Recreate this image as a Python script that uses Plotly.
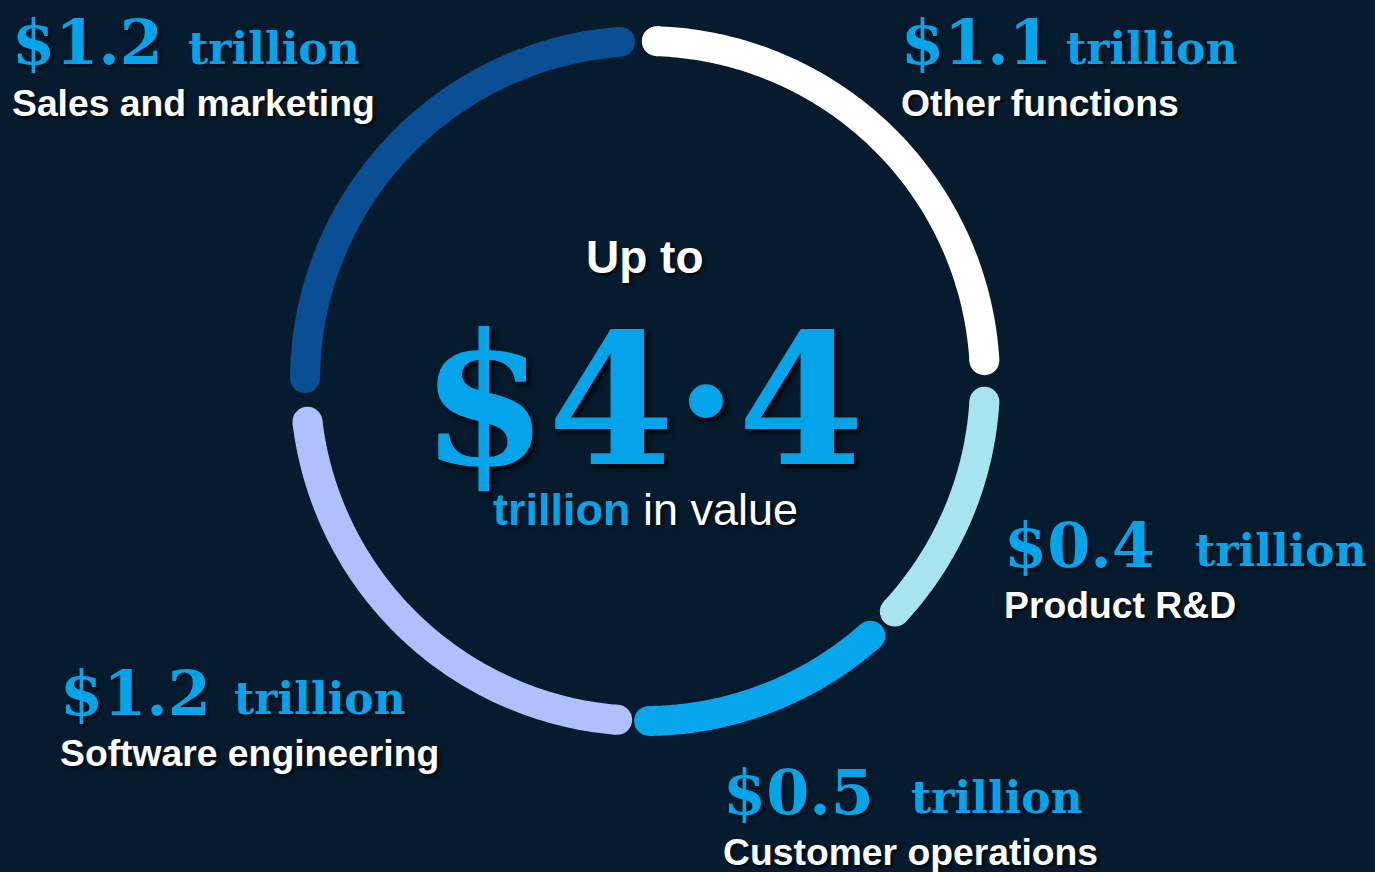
import numpy as np
import plotly.graph_objects as go

# data
functions = ["Other functions", "Product R&D", "Customer operations",
             "Software engineering", "Sales and marketing"]
values = [1.1, 0.4, 0.5, 1.2, 1.2]  # $ trillion
total = 4.4
# arc extents, degrees clockwise from 12 o'clock
arc_start = [2.0, 93.5, 138.5, 184.7, 270.5]
arc_end = [86.5, 132.7, 179.3, 263.1, 355.8]
arc_colors = ["#ffffff", "#a8e4ef", "#05a6ec", "#aec0ff", "#0a4e93"]

BG = "#061b2d"
BLUE = "#03a4ea"
SHADOW = "2px 2px 3px rgba(0,0,0,0.75)"
SERIF = "DejaVu Serif"
SANS = "Liberation Sans"

fig = go.Figure()

for name, a0, a1, col in zip(functions, arc_start, arc_end, arc_colors):
    theta = np.linspace(a0, a1, 120)
    fig.add_trace(go.Scatterpolar(
        r=np.ones_like(theta), theta=theta, mode="lines",
        line=dict(color=col, width=30), cliponaxis=False,
        hoverinfo="skip", showlegend=False, name=name))
    # round caps
    fig.add_trace(go.Scatterpolar(
        r=[1, 1], theta=[a0, a1], mode="markers",
        marker=dict(color=col, size=30, line=dict(width=0)),
        cliponaxis=False, hoverinfo="skip", showlegend=False))

# label anchors in paper px: (value x, "trillion" x, centre y of value line)
label_pos = {
    "Sales and marketing": (10, 186, 43),
    "Other functions": (899, 1064, 43),
    "Product R&D": (1002, 1193, 545),
    "Customer operations": (721, 909, 792),
    "Software engineering": (58, 232, 693),
}

W, H = 1375, 872
annotations = []
for name, v in zip(functions, values):
    x, xt, y = label_pos[name]
    annotations.append(dict(
        x=x / W, y=1 - y / H, xref="paper", yref="paper",
        xanchor="left", yanchor="middle", showarrow=False,
        text=f"<b>${v:.1f}</b>",
        font=dict(family=SERIF, color=BLUE, size=62, shadow=SHADOW)))
    annotations.append(dict(
        x=xt / W, y=1 - (y + 5) / H, xref="paper", yref="paper",
        xanchor="left", yanchor="middle", showarrow=False,
        text="<b>trillion</b>",
        font=dict(family=SERIF, color=BLUE, size=44, shadow=SHADOW)))
    annotations.append(dict(
        x=x / W, y=1 - (y + 60) / H, xref="paper", yref="paper",
        xanchor="left", yanchor="middle", showarrow=False,
        text=f"<b>{name}</b>",
        font=dict(family=SANS, color="white", size=37.3, shadow=SHADOW)))

# centre text
annotations += [
    dict(x=645 / W, y=1 - 257 / H, xref="paper", yref="paper",
         yanchor="middle", showarrow=False, text="<b>Up to</b>",
         font=dict(family=SANS, color="white", size=46, shadow=SHADOW)),
    dict(x=642 / W, y=1 - 400 / H, xref="paper", yref="paper",
         yanchor="middle", showarrow=False,
         text=f"<b>${total:.1f}</b>".replace(".", "·"),
         font=dict(family=SERIF, color=BLUE, size=182,
                   shadow="4px 4px 5px rgba(0,0,0,0.75)")),
    dict(x=645 / W, y=1 - 509 / H, xref="paper", yref="paper",
         yanchor="middle", showarrow=False,
         text="<b><span style='color:" + BLUE + "'>trillion</span></b> in value",
         font=dict(family=SANS, color="white", size=45, shadow=SHADOW)),
]

half = 340 * 1.1
cx, cy = 645, 381
fig.update_layout(
    width=W, height=H,
    margin=dict(l=0, r=0, t=0, b=0),
    paper_bgcolor=BG, plot_bgcolor=BG,
    polar=dict(
        domain=dict(x=[(cx - half) / W, (cx + half) / W],
                    y=[(H - cy - half) / H, (H - cy + half) / H]),
        bgcolor="rgba(0,0,0,0)",
        radialaxis=dict(visible=False, range=[0, 1.1]),
        angularaxis=dict(visible=False, direction="clockwise", rotation=90),
    ),
    annotations=annotations,
)

fig.write_html("out.html",
               config={"displayModeBar": False},
               post_script="document.body.style.margin='0px';"
                           "document.body.style.overflow='hidden';")
